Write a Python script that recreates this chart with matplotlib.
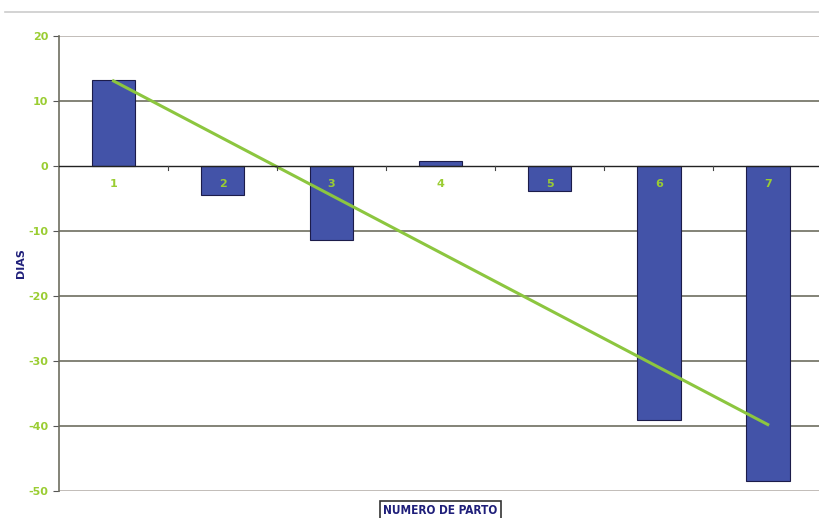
import numpy as np
import matplotlib.pyplot as plt
from matplotlib.lines import Line2D

# dias por numero de parto
partos = [1, 2, 3, 4, 5, 6, 7]
dias = [13.2, -4.5, -11.4, 0.7, -3.8, -39.1, -48.5]
y_ticks = [20, 10, 0, -10, -20, -30, -40, -50]

verde = '#9acd32'
azul = '#1f1f7a'

fig = plt.figure(figsize=(8.19, 5.18), dpi=100)
ax = fig.add_axes([0.072, 0.0521, 0.932, 0.8784])

# linea gris arriba
fig.add_artist(Line2D([0.006, 1.0], [0.977, 0.977], color='#cccccc', lw=1.2))

ax.set_xlim(0.5, 7.5)
ax.set_ylim(-50, 20)

for t in y_ticks:
    if t == 0:
        continue
    c = '#b8b2ad' if t in (20, -50) else '#6e6e60'
    ax.axhline(t, color=c, lw=1.2, zorder=1)

ax.bar(partos, dias, width=0.4, color='#4353a8', edgecolor='#1c1c4a', lw=0.8, zorder=2)

# tendencia lineal
m, b = np.polyfit(partos, dias, 1)
xs = np.array([partos[0], partos[-1]])
ax.plot(xs, m * xs + b, color='#8cc63f', lw=2.2, zorder=3)

ax.axhline(0, color='#222222', lw=1.0, zorder=4)

for p in partos:
    ax.text(p, -2.8, str(p), color=verde, fontsize=8, fontweight='bold',
            ha='center', va='center', zorder=5)

ax.spines['top'].set_visible(False)
ax.spines['right'].set_visible(False)
ax.spines['bottom'].set_visible(False)
ax.spines['left'].set_color('#6e6e60')
ax.spines['left'].set_linewidth(1.2)

ax.set_yticks(y_ticks)
ax.set_yticklabels([str(t) for t in y_ticks], color=verde, fontsize=8, fontweight='bold')
ax.tick_params(axis='y', length=4, color='#555555')

# marcas entre categorias sobre el cero
ax.set_xticks([])
for x in np.arange(1.5, 7.5, 1.0):
    ax.plot([x, x], [0, -0.6], color='#444444', lw=0.8, zorder=4)

ax.set_ylabel('DIAS', color=azul, fontsize=8, fontweight='bold', labelpad=2)
fig.text(0.538, 0.014, 'NUMERO DE PARTO', color=azul, fontsize=8.5, fontweight='bold',
         ha='center', va='center', family=['DejaVu Sans Condensed', 'DejaVu Sans'],
         fontstretch='condensed',
         bbox=dict(facecolor='white', edgecolor='#333333', boxstyle='square,pad=0.3', lw=1.2))

fig.savefig('out.png', dpi=100)
